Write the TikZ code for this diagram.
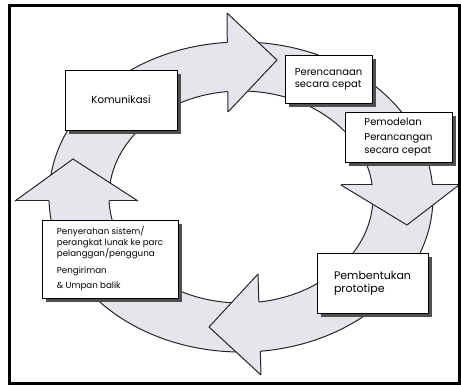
\documentclass[tikz,border=0pt]{standalone}
\usepackage{fontspec}
\setmainfont{Poppins}
\usetikzlibrary{shadows}

\definecolor{ringgray}{RGB}{229,230,236}
\definecolor{shadowgray}{RGB}{80,80,80}

\begin{document}
\begin{tikzpicture}[
    x=1pt, y=-1pt,
    stagebox/.style={rectangle, draw=black, fill=white, line width=0.8pt, inner sep=0pt, align=left,
        drop shadow={shadow xshift=4pt, shadow yshift=-4pt, fill=shadowgray, opacity=1}},
    ringline/.style={draw=black!85, line width=1pt, line join=miter},
    outer/.style={x radius=192pt, y radius=155pt},
    inner/.style={x radius=132pt, y radius=106pt}
]
    \useasboundingbox (0,0) rectangle (461,385);

    % Ring
    \fill[ringgray, even odd rule] (241,197) ellipse [outer] (241,197) ellipse [inner];
    \draw[ringline] (241,197) ellipse [outer];
    \draw[ringline] (241,197) ellipse [inner];

    % Arrow heads
    \foreach \tx/\ty/\ax/\ay/\bx/\by in {277/60/227/13/228/112, 407/225/459/185/341/185,
        209/327/261/375/258/274, 73/159/15/201/138/201} {
        \fill[ringgray] (\ax,\ay) -- (\tx,\ty) -- (\bx,\by) -- cycle;
        \draw[ringline] (\ax,\ay) -- (\tx,\ty) -- (\bx,\by);
    }
    \begin{scope}[even odd rule]
        \clip (0,0) rectangle (461,385) (241,197) ellipse [outer] (241,197) ellipse [inner];
        \foreach \ax/\ay/\bx/\by in {227/13/228/112, 459/185/341/185, 261/375/258/274, 15/201/138/201}
            \draw[ringline] (\ax,\ay) -- (\bx,\by);
    \end{scope}

    % Stages
    \node[stagebox, minimum width=112pt, minimum height=60pt, font=\fontsize{10.3}{12}\selectfont]
        (komunikasi) at (121,100) {Komunikasi};
    \node[stagebox, minimum width=87pt, minimum height=48pt, font=\fontsize{10}{12}\selectfont]
        (rencana) at (328.5,79) {Perencanaan\\secara cepat};
    \node[stagebox, minimum width=107pt, minimum height=50pt, font=\fontsize{10}{13}\selectfont]
        (modelan) at (398.5,137) {Pemodelan\\[2pt]Perancangan\\secara cepat};
    \node[stagebox, minimum width=111pt, minimum height=60pt, font=\fontsize{11}{13}\selectfont]
        (prototipe) at (372.5,283) {Pembentukan\\prototipe};
    \node[stagebox, minimum width=136pt, minimum height=78pt, font=\fontsize{8.7}{10.5}\selectfont]
        (serahan) at (110,259)
        {Penyerahan sistem/\\perangkat lunak ke parc\\pelanggan/pengguna\\[6pt]Pengiriman\\[5pt]\& Umpan balik};

    % Frame
    \draw[line width=3pt] (9,5.5) rectangle (459.5,383);
\end{tikzpicture}
\end{document}
